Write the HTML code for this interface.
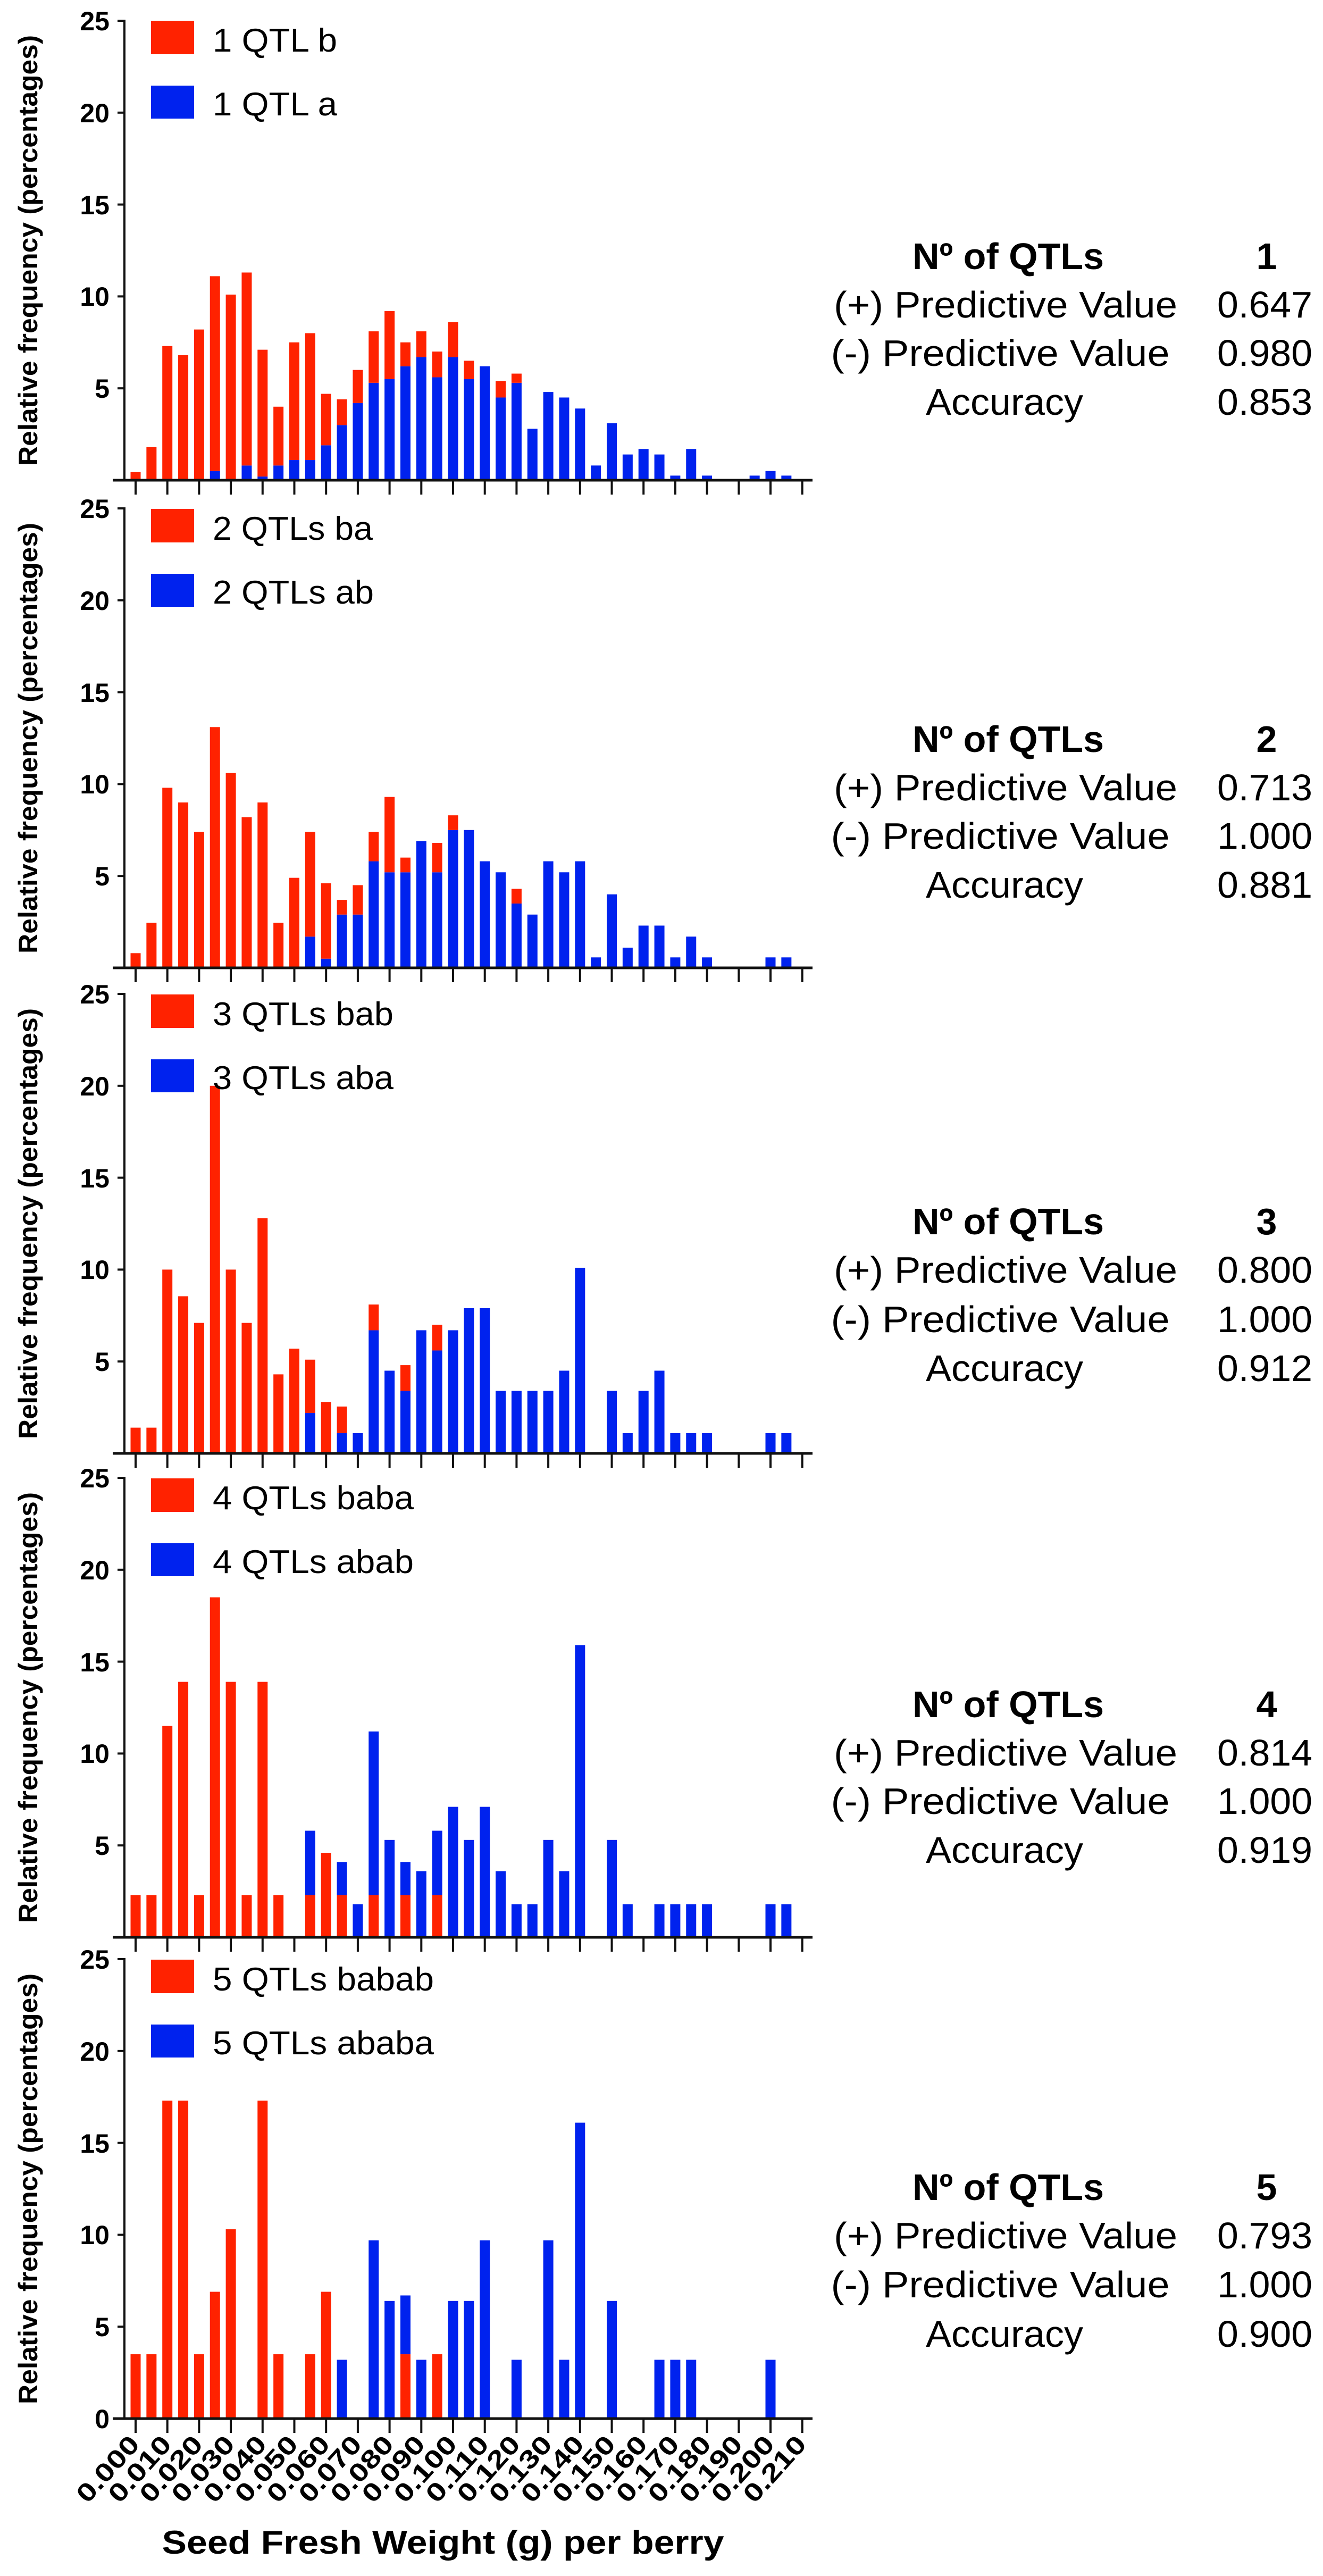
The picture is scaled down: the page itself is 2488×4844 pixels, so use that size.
<!DOCTYPE html>
<html><head><meta charset="utf-8"><style>
html,body{margin:0;padding:0;background:#fff;}
svg{display:block;}
.yl{font-family:"Liberation Sans",sans-serif;font-weight:bold;font-size:50px;}
.tk{font-family:"Liberation Sans",sans-serif;font-weight:bold;font-size:50px;}
.lg{font-family:"Liberation Sans",sans-serif;font-size:62px;}
.th{font-family:"Liberation Sans",sans-serif;font-weight:bold;font-size:70px;}
.tr{font-family:"Liberation Sans",sans-serif;font-size:70px;}
.xl{font-family:"Liberation Sans",sans-serif;font-weight:bold;font-size:48px;}
.xt{font-family:"Liberation Sans",sans-serif;font-weight:bold;font-size:62px;}
</style></head><body>
<svg id="s" xmlns="http://www.w3.org/2000/svg" width="2488" height="4844" viewBox="0 0 2488 4844">
<rect width="2488" height="4844" fill="#fff"/>
<g id="bars"></g>
<g id="axes" stroke="#111" fill="none"></g>

<!-- Y axis titles -->
<text class="yl" transform="translate(70,471) rotate(-90)" text-anchor="middle" textLength="810" lengthAdjust="spacingAndGlyphs">Relative frequency (percentages)</text>
<text class="yl" transform="translate(70,1388) rotate(-90)" text-anchor="middle" textLength="810" lengthAdjust="spacingAndGlyphs">Relative frequency (percentages)</text>
<text class="yl" transform="translate(70,2301) rotate(-90)" text-anchor="middle" textLength="810" lengthAdjust="spacingAndGlyphs">Relative frequency (percentages)</text>
<text class="yl" transform="translate(70,3211) rotate(-90)" text-anchor="middle" textLength="810" lengthAdjust="spacingAndGlyphs">Relative frequency (percentages)</text>
<text class="yl" transform="translate(70,4116) rotate(-90)" text-anchor="middle" textLength="810" lengthAdjust="spacingAndGlyphs">Relative frequency (percentages)</text>

<!-- Legends -->
<rect x="284" y="39" width="81" height="63" fill="#ff2200"/>
<text class="lg" x="400" y="97" textLength="234" lengthAdjust="spacingAndGlyphs">1 QTL b</text>
<rect x="284" y="161" width="81" height="62" fill="#0022ee"/>
<text class="lg" x="400" y="217" textLength="234" lengthAdjust="spacingAndGlyphs">1 QTL a</text>

<rect x="284" y="957" width="81" height="63" fill="#ff2200"/>
<text class="lg" x="400" y="1015" textLength="301" lengthAdjust="spacingAndGlyphs">2 QTLs ba</text>
<rect x="284" y="1079" width="81" height="62" fill="#0022ee"/>
<text class="lg" x="400" y="1135" textLength="303" lengthAdjust="spacingAndGlyphs">2 QTLs ab</text>

<rect x="284" y="1870" width="81" height="63" fill="#ff2200"/>
<text class="lg" x="400" y="1928" textLength="340" lengthAdjust="spacingAndGlyphs">3 QTLs bab</text>
<rect x="284" y="1992" width="81" height="62" fill="#0022ee"/>
<text class="lg" x="400" y="2048" textLength="340" lengthAdjust="spacingAndGlyphs">3 QTLs aba</text>

<rect x="284" y="2780" width="81" height="63" fill="#ff2200"/>
<text class="lg" x="400" y="2838" textLength="378" lengthAdjust="spacingAndGlyphs">4 QTLs baba</text>
<rect x="284" y="2902" width="81" height="62" fill="#0022ee"/>
<text class="lg" x="400" y="2958" textLength="378" lengthAdjust="spacingAndGlyphs">4 QTLs abab</text>

<rect x="284" y="3685" width="81" height="63" fill="#ff2200"/>
<text class="lg" x="400" y="3743" textLength="416" lengthAdjust="spacingAndGlyphs">5 QTLs babab</text>
<rect x="284" y="3807" width="81" height="62" fill="#0022ee"/>
<text class="lg" x="400" y="3863" textLength="416" lengthAdjust="spacingAndGlyphs">5 QTLs ababa</text>

<!-- Y tick labels -->
<g class="tk" text-anchor="end">
<text x="206" y="57">25</text><text x="206" y="230">20</text><text x="206" y="403">15</text><text x="206" y="575">10</text><text x="206" y="748">5</text>
<text x="206" y="974">25</text><text x="206" y="1147">20</text><text x="206" y="1320">15</text><text x="206" y="1492">10</text><text x="206" y="1665">5</text>
<text x="206" y="1887">25</text><text x="206" y="2060">20</text><text x="206" y="2233">15</text><text x="206" y="2405">10</text><text x="206" y="2578">5</text>
<text x="206" y="2797">25</text><text x="206" y="2970">20</text><text x="206" y="3143">15</text><text x="206" y="3315">10</text><text x="206" y="3488">5</text>
<text x="206" y="3702">25</text><text x="206" y="3875">20</text><text x="206" y="4048">15</text><text x="206" y="4220">10</text><text x="206" y="4393">5</text><text x="206" y="4566">0</text>
</g>

<!-- X tick labels -->
<g class="xl" text-anchor="end">
<text transform="translate(265,4598) rotate(-48)" textLength="150" lengthAdjust="spacingAndGlyphs">0.000</text>
<text transform="translate(325,4598) rotate(-48)" textLength="150" lengthAdjust="spacingAndGlyphs">0.010</text>
<text transform="translate(384,4598) rotate(-48)" textLength="150" lengthAdjust="spacingAndGlyphs">0.020</text>
<text transform="translate(444,4598) rotate(-48)" textLength="150" lengthAdjust="spacingAndGlyphs">0.030</text>
<text transform="translate(504,4598) rotate(-48)" textLength="150" lengthAdjust="spacingAndGlyphs">0.040</text>
<text transform="translate(563,4598) rotate(-48)" textLength="150" lengthAdjust="spacingAndGlyphs">0.050</text>
<text transform="translate(623,4598) rotate(-48)" textLength="150" lengthAdjust="spacingAndGlyphs">0.060</text>
<text transform="translate(683,4598) rotate(-48)" textLength="150" lengthAdjust="spacingAndGlyphs">0.070</text>
<text transform="translate(743,4598) rotate(-48)" textLength="150" lengthAdjust="spacingAndGlyphs">0.080</text>
<text transform="translate(802,4598) rotate(-48)" textLength="150" lengthAdjust="spacingAndGlyphs">0.090</text>
<text transform="translate(862,4598) rotate(-48)" textLength="150" lengthAdjust="spacingAndGlyphs">0.100</text>
<text transform="translate(922,4598) rotate(-48)" textLength="150" lengthAdjust="spacingAndGlyphs">0.110</text>
<text transform="translate(981,4598) rotate(-48)" textLength="150" lengthAdjust="spacingAndGlyphs">0.120</text>
<text transform="translate(1041,4598) rotate(-48)" textLength="150" lengthAdjust="spacingAndGlyphs">0.130</text>
<text transform="translate(1101,4598) rotate(-48)" textLength="150" lengthAdjust="spacingAndGlyphs">0.140</text>
<text transform="translate(1160,4598) rotate(-48)" textLength="150" lengthAdjust="spacingAndGlyphs">0.150</text>
<text transform="translate(1220,4598) rotate(-48)" textLength="150" lengthAdjust="spacingAndGlyphs">0.160</text>
<text transform="translate(1280,4598) rotate(-48)" textLength="150" lengthAdjust="spacingAndGlyphs">0.170</text>
<text transform="translate(1340,4598) rotate(-48)" textLength="150" lengthAdjust="spacingAndGlyphs">0.180</text>
<text transform="translate(1399,4598) rotate(-48)" textLength="150" lengthAdjust="spacingAndGlyphs">0.190</text>
<text transform="translate(1459,4598) rotate(-48)" textLength="150" lengthAdjust="spacingAndGlyphs">0.200</text>
<text transform="translate(1519,4598) rotate(-48)" textLength="150" lengthAdjust="spacingAndGlyphs">0.210</text>
</g>
<text class="xt" x="833" y="4802" text-anchor="middle" textLength="1057" lengthAdjust="spacingAndGlyphs">Seed Fresh Weight (g) per berry</text>

<!-- Tables -->
<g>
<text class="th" x="1896" y="506" text-anchor="middle" textLength="360" lengthAdjust="spacingAndGlyphs">Nº of QTLs</text>
<text class="th" x="2382" y="506" text-anchor="middle">1</text>
<text class="tr" x="1891" y="597" text-anchor="middle" textLength="646" lengthAdjust="spacingAndGlyphs">(+) Predictive Value</text>
<text class="tr" x="2468" y="597" text-anchor="end" textLength="179" lengthAdjust="spacingAndGlyphs">0.647</text>
<text class="tr" x="1881" y="688" text-anchor="middle" textLength="637" lengthAdjust="spacingAndGlyphs">(-) Predictive Value</text>
<text class="tr" x="2468" y="688" text-anchor="end" textLength="179" lengthAdjust="spacingAndGlyphs">0.980</text>
<text class="tr" x="1889" y="780" text-anchor="middle" textLength="296" lengthAdjust="spacingAndGlyphs">Accuracy</text>
<text class="tr" x="2468" y="780" text-anchor="end" textLength="179" lengthAdjust="spacingAndGlyphs">0.853</text>
</g>
<g>
<text class="th" x="1896" y="1414" text-anchor="middle" textLength="360" lengthAdjust="spacingAndGlyphs">Nº of QTLs</text>
<text class="th" x="2382" y="1414" text-anchor="middle">2</text>
<text class="tr" x="1891" y="1505" text-anchor="middle" textLength="646" lengthAdjust="spacingAndGlyphs">(+) Predictive Value</text>
<text class="tr" x="2468" y="1505" text-anchor="end" textLength="179" lengthAdjust="spacingAndGlyphs">0.713</text>
<text class="tr" x="1881" y="1596" text-anchor="middle" textLength="637" lengthAdjust="spacingAndGlyphs">(-) Predictive Value</text>
<text class="tr" x="2468" y="1596" text-anchor="end" textLength="179" lengthAdjust="spacingAndGlyphs">1.000</text>
<text class="tr" x="1889" y="1688" text-anchor="middle" textLength="296" lengthAdjust="spacingAndGlyphs">Accuracy</text>
<text class="tr" x="2468" y="1688" text-anchor="end" textLength="179" lengthAdjust="spacingAndGlyphs">0.881</text>
</g>
<g>
<text class="th" x="1896" y="2321" text-anchor="middle" textLength="360" lengthAdjust="spacingAndGlyphs">Nº of QTLs</text>
<text class="th" x="2382" y="2321" text-anchor="middle">3</text>
<text class="tr" x="1891" y="2412" text-anchor="middle" textLength="646" lengthAdjust="spacingAndGlyphs">(+) Predictive Value</text>
<text class="tr" x="2468" y="2412" text-anchor="end" textLength="179" lengthAdjust="spacingAndGlyphs">0.800</text>
<text class="tr" x="1881" y="2505" text-anchor="middle" textLength="637" lengthAdjust="spacingAndGlyphs">(-) Predictive Value</text>
<text class="tr" x="2468" y="2505" text-anchor="end" textLength="179" lengthAdjust="spacingAndGlyphs">1.000</text>
<text class="tr" x="1889" y="2597" text-anchor="middle" textLength="296" lengthAdjust="spacingAndGlyphs">Accuracy</text>
<text class="tr" x="2468" y="2597" text-anchor="end" textLength="179" lengthAdjust="spacingAndGlyphs">0.912</text>
</g>
<g>
<text class="th" x="1896" y="3229" text-anchor="middle" textLength="360" lengthAdjust="spacingAndGlyphs">Nº of QTLs</text>
<text class="th" x="2382" y="3229" text-anchor="middle">4</text>
<text class="tr" x="1891" y="3320" text-anchor="middle" textLength="646" lengthAdjust="spacingAndGlyphs">(+) Predictive Value</text>
<text class="tr" x="2468" y="3320" text-anchor="end" textLength="179" lengthAdjust="spacingAndGlyphs">0.814</text>
<text class="tr" x="1881" y="3411" text-anchor="middle" textLength="637" lengthAdjust="spacingAndGlyphs">(-) Predictive Value</text>
<text class="tr" x="2468" y="3411" text-anchor="end" textLength="179" lengthAdjust="spacingAndGlyphs">1.000</text>
<text class="tr" x="1889" y="3503" text-anchor="middle" textLength="296" lengthAdjust="spacingAndGlyphs">Accuracy</text>
<text class="tr" x="2468" y="3503" text-anchor="end" textLength="179" lengthAdjust="spacingAndGlyphs">0.919</text>
</g>
<g>
<text class="th" x="1896" y="4137" text-anchor="middle" textLength="360" lengthAdjust="spacingAndGlyphs">Nº of QTLs</text>
<text class="th" x="2382" y="4137" text-anchor="middle">5</text>
<text class="tr" x="1891" y="4228" text-anchor="middle" textLength="646" lengthAdjust="spacingAndGlyphs">(+) Predictive Value</text>
<text class="tr" x="2468" y="4228" text-anchor="end" textLength="179" lengthAdjust="spacingAndGlyphs">0.793</text>
<text class="tr" x="1881" y="4320" text-anchor="middle" textLength="637" lengthAdjust="spacingAndGlyphs">(-) Predictive Value</text>
<text class="tr" x="2468" y="4320" text-anchor="end" textLength="179" lengthAdjust="spacingAndGlyphs">1.000</text>
<text class="tr" x="1889" y="4413" text-anchor="middle" textLength="296" lengthAdjust="spacingAndGlyphs">Accuracy</text>
<text class="tr" x="2468" y="4413" text-anchor="end" textLength="179" lengthAdjust="spacingAndGlyphs">0.900</text>
</g>
</svg>
<script>
(function(){
var NS="http://www.w3.org/2000/svg";
var RED="#ff2200",BLUE="#0022ee";
var base=[903,1820,2733,3643,4548];
var unit=864/25;
// panels 1-3: [j, blue(bottom), total] red on top; panels 4-5: [j, red(bottom), total] blue on top
var P=[
[[0,0,.44],[1,0,1.8],[2,0,7.3],[3,0,6.8],[4,0,8.2],[5,.5,11.1],[6,0,10.1],[7,.8,11.3],[8,.2,7.1],[9,.8,4.0],[10,1.1,7.5],[11,1.1,8.0],[12,1.9,4.7],[13,3.0,4.4],[14,4.2,6.0],[15,5.3,8.1],[16,5.5,9.2],[17,6.2,7.5],[18,6.7,8.1],[19,5.6,7.0],[20,6.7,8.6],[21,5.5,6.5],[22,6.2,6.2],[23,4.5,5.4],[24,5.3,5.8],[25,2.8,2.8],[26,4.8,4.8],[27,4.5,4.5],[28,3.9,3.9],[29,.8,.8],[30,3.1,3.1],[31,1.4,1.4],[32,1.7,1.7],[33,1.4,1.4],[34,.25,.25],[35,1.7,1.7],[36,.25,.25],[39,.25,.25],[40,.5,.5],[41,.25,.25]],
[[0,0,.8],[1,0,2.45],[2,0,9.8],[3,0,9.0],[4,0,7.4],[5,0,13.1],[6,0,10.6],[7,0,8.2],[8,0,9.0],[9,0,2.45],[10,0,4.9],[11,1.7,7.4],[12,.5,4.6],[13,2.9,3.7],[14,2.9,4.5],[15,5.8,7.4],[16,5.2,9.3],[17,5.2,6.0],[18,6.9,6.9],[19,5.2,6.8],[20,7.5,8.3],[21,7.5,7.5],[22,5.8,5.8],[23,5.2,5.2],[24,3.5,4.3],[25,2.9,2.9],[26,5.8,5.8],[27,5.2,5.2],[28,5.8,5.8],[29,.57,.57],[30,4.0,4.0],[31,1.1,1.1],[32,2.3,2.3],[33,2.3,2.3],[34,.57,.57],[35,1.7,1.7],[36,.57,.57],[40,.57,.57],[41,.57,.57]],
[[0,0,1.4],[1,0,1.4],[2,0,10],[3,0,8.55],[4,0,7.1],[5,0,20],[6,0,10],[7,0,7.1],[8,0,12.8],[9,0,4.3],[10,0,5.7],[11,2.2,5.1],[12,0,2.8],[13,1.1,2.55],[14,1.1,1.1],[15,6.7,8.1],[16,4.5,4.5],[17,3.4,4.8],[18,6.7,6.7],[19,5.6,7.0],[20,6.7,6.7],[21,7.9,7.9],[22,7.9,7.9],[23,3.4,3.4],[24,3.4,3.4],[25,3.4,3.4],[26,3.4,3.4],[27,4.5,4.5],[28,10.1,10.1],[30,3.4,3.4],[31,1.1,1.1],[32,3.4,3.4],[33,4.5,4.5],[34,1.1,1.1],[35,1.1,1.1],[36,1.1,1.1],[40,1.1,1.1],[41,1.1,1.1]],
[[0,2.3,2.3],[1,2.3,2.3],[2,11.5,11.5],[3,13.9,13.9],[4,2.3,2.3],[5,18.5,18.5],[6,13.9,13.9],[7,2.3,2.3],[8,13.9,13.9],[9,2.3,2.3],[11,2.3,5.8],[12,4.6,4.6],[13,2.3,4.1],[14,0,1.8],[15,2.3,11.2],[16,0,5.3],[17,2.3,4.1],[18,0,3.6],[19,2.3,5.8],[20,0,7.1],[21,0,5.3],[22,0,7.1],[23,0,3.6],[24,0,1.8],[25,0,1.8],[26,0,5.3],[27,0,3.6],[28,0,15.9],[30,0,5.3],[31,0,1.8],[33,0,1.8],[34,0,1.8],[35,0,1.8],[36,0,1.8],[40,0,1.8],[41,0,1.8]],
[[0,3.5,3.5],[1,3.5,3.5],[2,17.3,17.3],[3,17.3,17.3],[4,3.5,3.5],[5,6.9,6.9],[6,10.3,10.3],[8,17.3,17.3],[9,3.5,3.5],[11,3.5,3.5],[12,6.9,6.9],[13,0,3.2],[15,0,9.7],[16,0,6.4],[17,3.5,6.7],[18,0,3.2],[19,3.5,3.5],[20,0,6.4],[21,0,6.4],[22,0,9.7],[24,0,3.2],[26,0,9.7],[27,0,3.2],[28,0,16.1],[30,0,6.4],[33,0,3.2],[34,0,3.2],[35,0,3.2],[40,0,3.2]]
];
var bars=document.getElementById("bars"),axes=document.getElementById("axes");
function rect(x,y,w,h,c){if(h<=0)return;var r=document.createElementNS(NS,"rect");r.setAttribute("x",x);r.setAttribute("y",y);r.setAttribute("width",w);r.setAttribute("height",h);r.setAttribute("fill",c);bars.appendChild(r);}
function line(x1,y1,x2,y2,w){var l=document.createElementNS(NS,"line");l.setAttribute("x1",x1);l.setAttribute("y1",y1);l.setAttribute("x2",x2);l.setAttribute("y2",y2);l.setAttribute("stroke-width",w);axes.appendChild(l);}
for(var p=0;p<5;p++){
 var B=base[p],top=B-864;
 var lowC=p<3?BLUE:RED, hiC=p<3?RED:BLUE;
 P[p].forEach(function(d){
  var cx=255+29.85*d[0],w=19,x=cx-w/2;
  var yb=B-d[1]*unit, yt=B-d[2]*unit;
  rect(x,yb,w,B-yb,lowC);
  rect(x,yt,w,yb-yt,hiC);
 });
 line(234,top-2,234,B,4);
 for(var k=0;k<=5;k++){var yy=B-k*5*unit;line(221,yy,234,yy,4);}
 line(212,B,1528,B,5);
 for(var i=0;i<22;i++){var tx=255+59.7*i;line(tx,B,tx,B+27,4);}
}
})();
</script>
</body></html>
